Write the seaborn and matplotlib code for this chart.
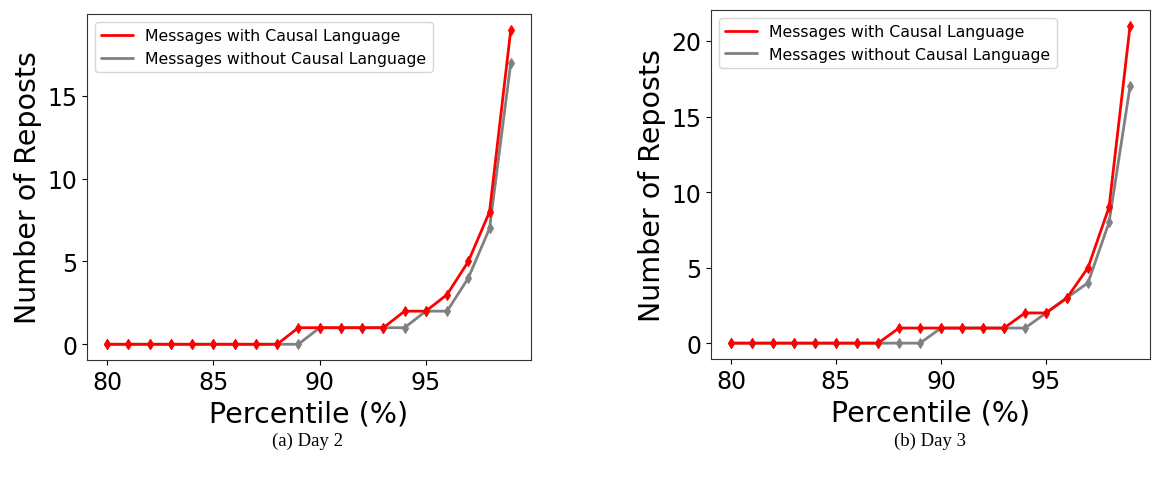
import matplotlib
matplotlib.use("Agg")
import matplotlib.pyplot as plt
from matplotlib.lines import Line2D
import seaborn as sns
import pandas as pd

percentiles = list(range(80, 100))

day2_causal = [0, 0, 0, 0, 0, 0, 0, 0, 0, 1, 1, 1, 1, 1, 2, 2, 3, 5, 8, 19]
day2_noncausal = [0, 0, 0, 0, 0, 0, 0, 0, 0, 0, 1, 1, 1, 1, 1, 2, 2, 4, 7, 17]

day3_causal = [0, 0, 0, 0, 0, 0, 0, 0, 1, 1, 1, 1, 1, 1, 2, 2, 3, 5, 9, 21]
day3_noncausal = [0, 0, 0, 0, 0, 0, 0, 0, 0, 0, 1, 1, 1, 1, 1, 2, 3, 4, 8, 17]

captions = ["(a) Day 2", "(b) Day 3"]
labels = ["Messages with Causal Language", "Messages without Causal Language"]
colors = ["red", "gray"]

sns.set_style("ticks", {"text.color": "black", "xtick.color": "black",
                        "ytick.color": "black", "axes.labelcolor": "black",
                        "axes.edgecolor": "#333333"})
plt.rcParams["font.family"] = ["DejaVu Sans"]

fig = plt.figure(figsize=(11.53, 4.85), dpi=100)
ax1 = fig.add_axes([0.0755, 0.2557, 0.385, 0.7133])
ax2 = fig.add_axes([0.6167, 0.2577, 0.3807, 0.7196])

panels = [(ax1, day2_causal, day2_noncausal), (ax2, day3_causal, day3_noncausal)]

for ax, causal, noncausal in panels:
    df = pd.DataFrame({"pct": percentiles, "causal": causal, "noncausal": noncausal})
    # gray first so the red line sits on top where they overlap
    sns.lineplot(data=df, x="pct", y="noncausal", ax=ax, color=colors[1],
                 marker="d", markersize=5.5, markeredgecolor=colors[1], linewidth=2)
    sns.lineplot(data=df, x="pct", y="causal", ax=ax, color=colors[0],
                 marker="d", markersize=5.5, markeredgecolor=colors[0], linewidth=2)
    handles = [Line2D([], [], color=c, linewidth=2) for c in colors]
    ax.legend(handles, labels, loc="upper left", fontsize=11.3)
    ax.set_xticks([80, 85, 90, 95])
    ax.set_xlabel("Percentile (%)", fontsize=20.5)
    ax.set_ylabel("Number of Reposts", fontsize=20.5)
    ax.tick_params(labelsize=17)

ax1.set_yticks([0, 5, 10, 15])
ax2.set_yticks([0, 5, 10, 15, 20])

fig.text(0.267, 0.091, captions[0], ha="center", va="center",
         family="Liberation Serif", fontsize=13.5)
fig.text(0.807, 0.091, captions[1], ha="center", va="center",
         family="Liberation Serif", fontsize=13.5)

fig.savefig("out.png", dpi=100)
